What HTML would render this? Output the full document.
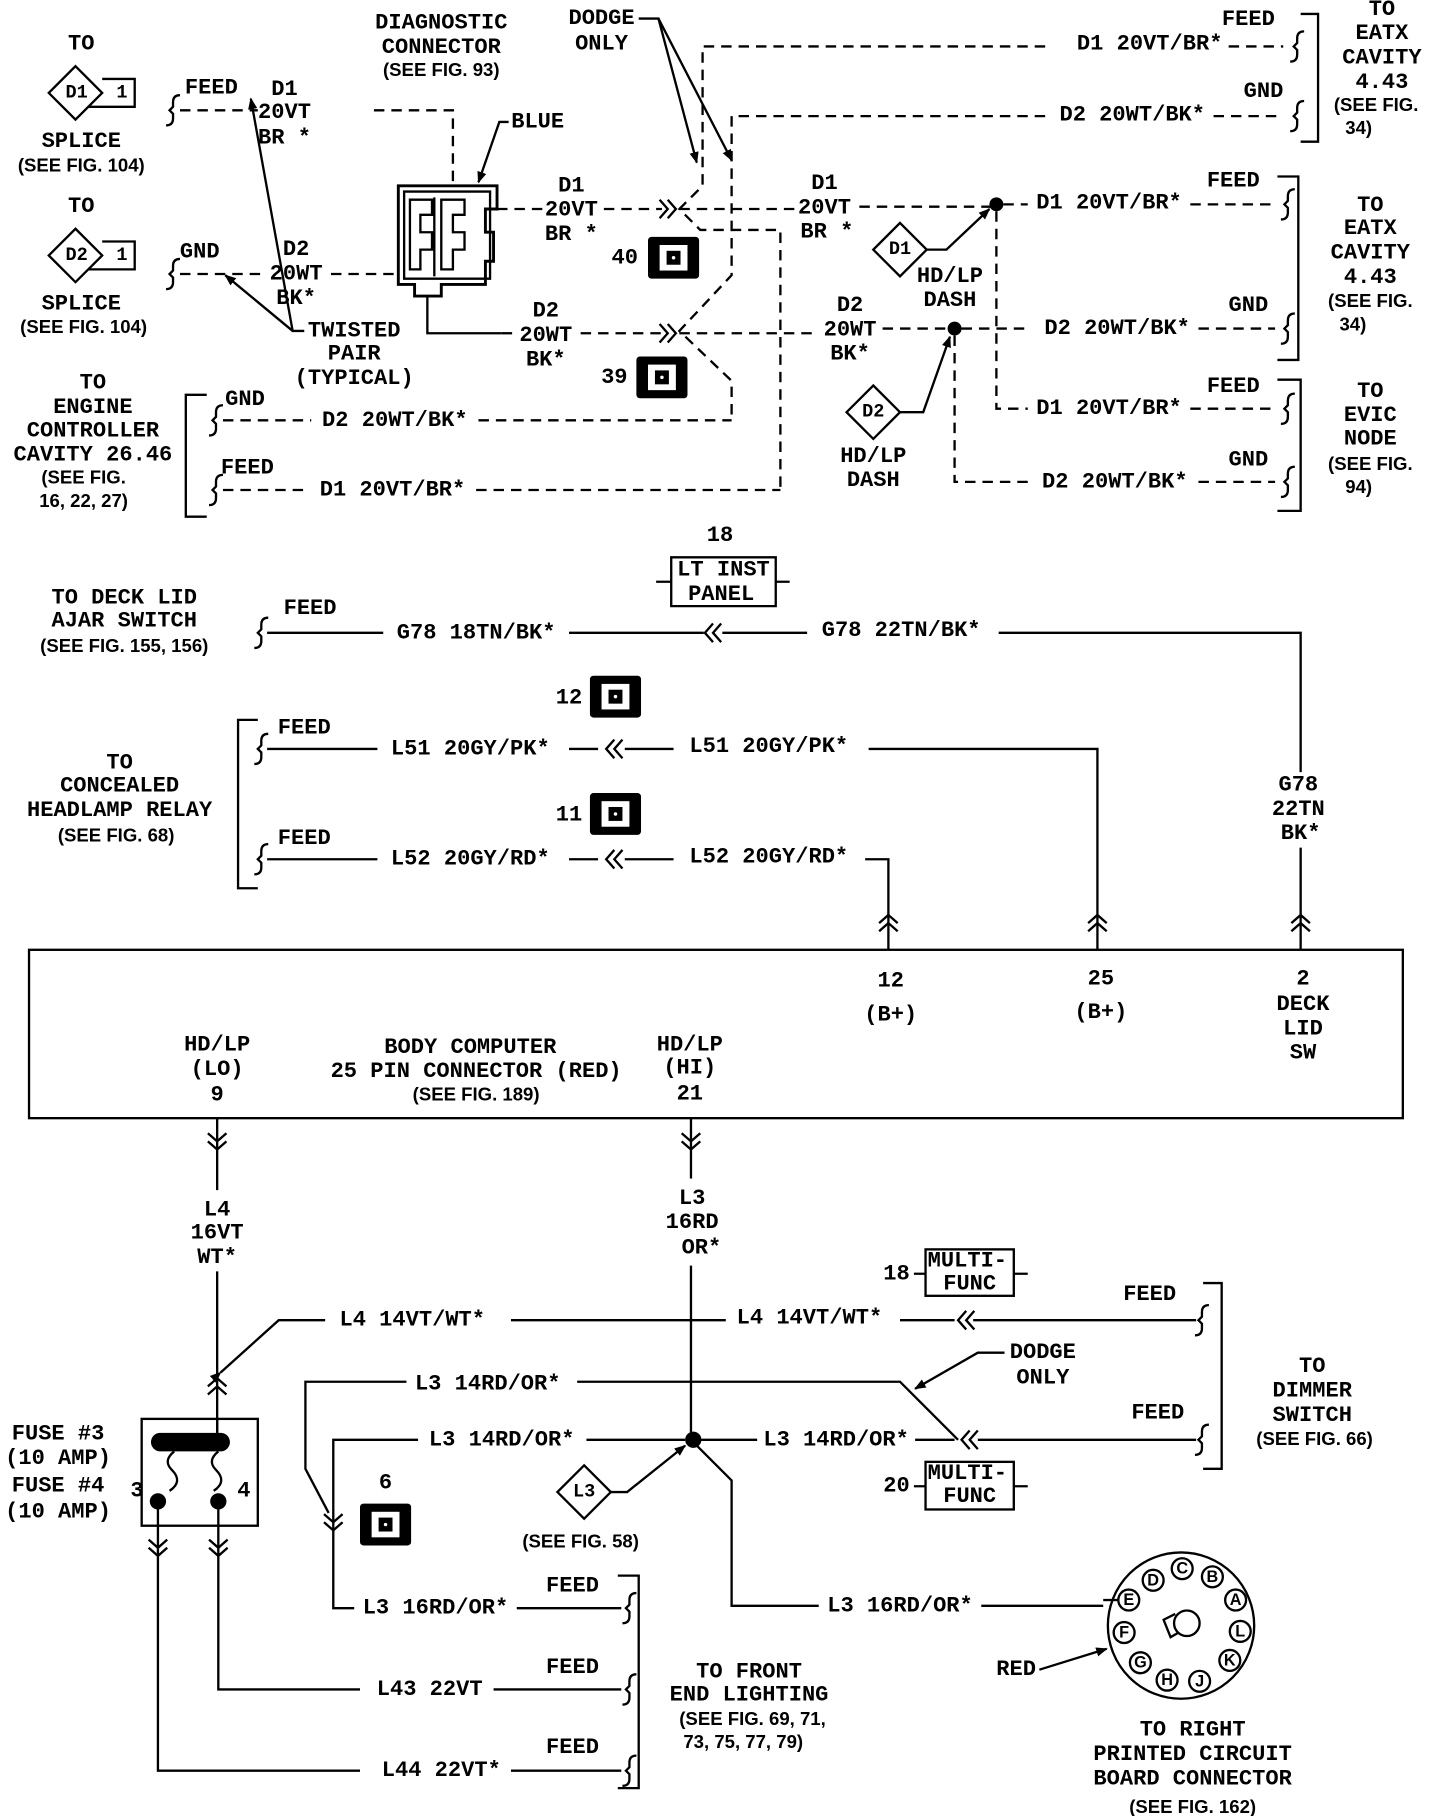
<!DOCTYPE html>
<html><head><meta charset="utf-8"><style>
html,body{margin:0;padding:0;background:#fff;}
svg{display:block}
.m{font-family:"Liberation Mono",monospace;font-weight:bold;font-size:19px;text-anchor:middle;dominant-baseline:central;fill:#000}
.s{font-family:"Liberation Sans",sans-serif;font-weight:bold;font-size:16px;text-anchor:middle;dominant-baseline:central;fill:#000}
.l{fill:none;stroke:#000;stroke-width:2}
.d{fill:none;stroke:#000;stroke-width:2;stroke-dasharray:9,6}
</style></head><body>
<svg width="1440" height="1816" viewBox="0 0 1240 1564" preserveAspectRatio="none" xmlns="http://www.w3.org/2000/svg">
<defs>
<path id="sq" class="l" d="M5,-13 q-6,0 -6,6 v4 l-3,3 l3,3 v4 q0,6 -6,6"/>
<path id="cl" class="l" d="M7,-8 L0,0 L7,8 M14,-8 L7,0 L14,8"/>
<path id="cr" class="l" d="M-7,-8 L0,0 L-7,8 M-14,-8 L-7,0 L-14,8"/>
<path id="cu" class="l" d="M-8,7 L0,0 L8,7 M-8,14 L0,7 L8,14"/>
<path id="cd" class="l" d="M-8,-7 L0,0 L8,-7 M-8,-14 L0,-7 L8,-14"/>
<marker id="ar" markerWidth="10" markerHeight="10" refX="9" refY="5" orient="auto" markerUnits="userSpaceOnUse"><path d="M0,1 L10,5 L0,9z" fill="#000"/></marker>
<g id="pin"><rect x="-22" y="-18" width="44" height="36" rx="3" fill="#000"/><rect x="-12" y="-11" width="24" height="22" fill="#fff"/><rect x="-6" y="-6" width="12" height="12" fill="#000"/><circle r="1.5" fill="#fff"/></g>
</defs>

<!-- ===== TOP LEFT ===== -->
<text class="m" x="70" y="38">TO</text>
<path class="l" d="M65,57 L88,80 L65,103 L42,80Z M88,68 H116 V92 H76"/>
<text class="m" x="66" y="80" style="font-size:16px">D1</text><text class="m" x="105" y="80" style="font-size:16px">1</text>
<text class="m" x="70" y="122">SPLICE</text><text class="s" x="70" y="142">(SEE FIG. 104)</text>
<text class="m" x="70" y="178">TO</text>
<path class="l" d="M65,197 L88,220 L65,243 L42,220Z M88,208 H116 V232 H76"/>
<text class="m" x="66" y="220" style="font-size:16px">D2</text><text class="m" x="105" y="220" style="font-size:16px">1</text>
<text class="m" x="70" y="262">SPLICE</text><text class="s" x="72" y="281">(SEE FIG. 104)</text>

<use href="#sq" x="150" y="95"/><text class="m" x="182" y="76">FEED</text>
<path class="d" d="M155,95 H222"/><path class="d" d="M322,95 H390 V160"/>
<text class="m" x="245" y="77">D1</text><text class="m" x="245" y="97">20VT</text><text class="m" x="245" y="119">BR *</text>
<use href="#sq" x="150" y="236"/><text class="m" x="172" y="217">GND</text>
<path class="d" d="M155,236 H228"/><path class="d" d="M285,236 H340"/>
<text class="m" x="255" y="215">D2</text><text class="m" x="255" y="236">20WT</text><text class="m" x="255" y="257">BK*</text>
<path class="l" d="M262,285 H252 L216,85" marker-end="url(#ar)"/><path class="l" d="M252,285 L194,237" marker-end="url(#ar)"/>
<text class="m" x="305" y="285">TWISTED</text><text class="m" x="305" y="305">PAIR</text><text class="m" x="305" y="326">(TYPICAL)</text>

<!-- diag connector -->
<text class="m" x="380" y="20">DIAGNOSTIC</text><text class="m" x="380" y="41">CONNECTOR</text><text class="s" x="380" y="60">(SEE FIG. 93)</text>
<path class="l" d="M343,160 H428 V180 H418 V200 H425 V225 H418 V245 H380 V255 H357 V245 H343 Z" style="stroke-width:2.5"/>
<path class="l" d="M348,165 H422 V240 H348 Z M353,172 H372 V185 H362 V200 H372 V215 H362 V232 H353Z M380,172 H400 V185 H390 V200 H400 V215 H390 V232 H380Z M374,170 V238"/>
<path class="l" d="M368,255 V287 H432"/><path class="d" d="M428,180 H468"/><path class="d" d="M520,180 H570"/>
<path class="l" d="M438,105 H430 L412,157" marker-end="url(#ar)"/><text class="m" x="463" y="105">BLUE</text>
<text class="m" x="492" y="160">D1</text><text class="m" x="492" y="181">20VT</text><text class="m" x="492" y="202">BR *</text>
<text class="m" x="470" y="268">D2</text><text class="m" x="470" y="289">20WT</text><text class="m" x="470" y="310">BK*</text>
<path class="d" d="M432,287 H445"/><path class="d" d="M500,287 H570"/>
<use href="#cr" x="582" y="180"/><use href="#cr" x="582" y="287"/>
<text class="m" x="538" y="222">40</text><use href="#pin" x="580" y="222"/>
<text class="m" x="529" y="325">39</text><use href="#pin" x="570" y="325"/>

<!-- dodge only top -->
<text class="m" x="518" y="16">DODGE</text><text class="m" x="518" y="38">ONLY</text>
<path class="l" d="M550,16 H567 L600,140" marker-end="url(#ar)"/><path class="l" d="M567,16 L630,138" marker-end="url(#ar)"/>
<!-- crossing dashed -->
<path class="d" d="M900,40 H605 V160 L585,180 L603,198 H672 V422"/>
<path class="d" d="M900,100 H630 V237 L585,285 L630,328 V362"/>
<path class="d" d="M585,180 H685"/><path class="d" d="M740,178 H860"/>
<path class="d" d="M585,287 H700"/><path class="d" d="M760,283 H822"/>
<text class="m" x="990" y="38">D1 20VT/BR*</text><path class="d" d="M1058,40 H1105"/><use href="#sq" x="1118" y="40"/>
<text class="m" x="1075" y="17">FEED</text>
<text class="m" x="975" y="99">D2 20WT/BK*</text><path class="d" d="M1045,100 H1105"/><use href="#sq" x="1118" y="100"/>
<text class="m" x="1088" y="79">GND</text>
<path class="l" d="M1120,12 H1135 V122 H1120"/>
<text class="m" x="1190" y="8">TO</text><text class="m" x="1190" y="29">EATX</text><text class="m" x="1190" y="50">CAVITY</text><text class="m" x="1190" y="71">4.43</text><text class="s" x="1185" y="90">(SEE FIG.</text><text class="s" x="1170" y="110">34)</text>

<text class="m" x="710" y="158">D1</text><text class="m" x="710" y="179">20VT</text><text class="m" x="712" y="200">BR *</text>
<circle cx="858" cy="176" r="6"/>
<path class="d" d="M864,176 H885"/><text class="m" x="955" y="175">D1 20VT/BR*</text><path class="d" d="M1025,176 H1098"/><use href="#sq" x="1110" y="176"/>
<text class="m" x="1062" y="156">FEED</text>
<path class="l" d="M775,192 L798,215 L775,238 L752,215Z"/><text class="m" x="775" y="215" style="font-size:16px">D1</text>
<path class="l" d="M798,215 H815 L852,180" marker-end="url(#ar)"/>
<text class="m" x="818" y="238">HD/LP</text><text class="m" x="818" y="259">DASH</text>
<text class="m" x="732" y="263">D2</text><text class="m" x="732" y="284">20WT</text><text class="m" x="732" y="305">BK*</text>
<circle cx="822" cy="283" r="6"/>
<path class="d" d="M828,283 H885"/><text class="m" x="962" y="283">D2 20WT/BK*</text><path class="d" d="M1032,283 H1098"/><use href="#sq" x="1110" y="283"/>
<text class="m" x="1075" y="263">GND</text>
<path class="l" d="M752,332 L775,355 L752,378 L729,355Z"/><text class="m" x="752" y="355" style="font-size:16px">D2</text>
<path class="l" d="M775,355 H795 L818,290" marker-end="url(#ar)"/>
<text class="m" x="752" y="393">HD/LP</text><text class="m" x="752" y="414">DASH</text>
<path class="l" d="M1100,152 H1118 V310 H1100"/>
<text class="m" x="1180" y="177">TO</text><text class="m" x="1180" y="197">EATX</text><text class="m" x="1180" y="218">CAVITY</text><text class="m" x="1180" y="239">4.43</text><text class="s" x="1180" y="259">(SEE FIG.</text><text class="s" x="1165" y="279">34)</text>
<path class="d" d="M858,182 V352 H885"/><text class="m" x="955" y="352">D1 20VT/BR*</text><path class="d" d="M1025,352 H1098"/><use href="#sq" x="1110" y="352"/>
<text class="m" x="1062" y="333">FEED</text>
<path class="d" d="M822,289 V415 H885"/><text class="m" x="960" y="415">D2 20WT/BK*</text><path class="d" d="M1032,415 H1098"/><use href="#sq" x="1110" y="415"/>
<text class="m" x="1075" y="396">GND</text>
<path class="l" d="M1100,327 H1120 V440 H1100"/>
<text class="m" x="1180" y="337">TO</text><text class="m" x="1180" y="358">EVIC</text><text class="m" x="1180" y="378">NODE</text><text class="s" x="1180" y="399">(SEE FIG.</text><text class="s" x="1170" y="419">94)</text>

<!-- engine controller -->
<text class="m" x="80" y="330">TO</text><text class="m" x="80" y="351">ENGINE</text><text class="m" x="80" y="371">CONTROLLER</text><text class="m" x="80" y="392">CAVITY 26.46</text><text class="s" x="72" y="411">(SEE FIG.</text><text class="s" x="72" y="431">16, 22, 27)</text>
<path class="l" d="M178,340 H160 V445 H178"/>
<use href="#sq" x="187" y="362"/><text class="m" x="211" y="344">GND</text>
<path class="d" d="M192,362 H268"/><text class="m" x="340" y="362">D2 20WT/BK*</text><path class="d" d="M412,362 H630"/>
<use href="#sq" x="187" y="422"/><text class="m" x="213" y="403">FEED</text>
<path class="d" d="M192,422 H262"/><text class="m" x="338" y="422">D1 20VT/BR*</text><path class="d" d="M410,422 H672"/>

<!-- ===== MIDDLE ===== -->
<text class="m" x="620" y="461">18</text>
<path class="l" d="M578,480 H668 V522 H578Z M565,501 H578 M668,501 H680"/>
<text class="m" x="623" y="491">LT INST</text><text class="m" x="621" y="512">PANEL</text>
<text class="m" x="107" y="515">TO DECK LID</text><text class="m" x="107" y="535">AJAR SWITCH</text><text class="s" x="107" y="556">(SEE FIG. 155, 156)</text>
<text class="m" x="267" y="524">FEED</text><use href="#sq" x="226" y="545"/>
<path class="l" d="M230,545 H330 M490,545 H606 M622,545 H695 M860,545 H1120 V665"/>
<use href="#cl" x="607" y="545"/>
<text class="m" x="410" y="545">G78 18TN/BK*</text><text class="m" x="776" y="543">G78 22TN/BK*</text>
<text class="m" x="1118" y="676">G78</text><text class="m" x="1118" y="697">22TN</text><text class="m" x="1120" y="718">BK*</text>
<path class="l" d="M1120,730 V818"/><use href="#cu" x="1120" y="788"/>

<text class="m" x="490" y="601">12</text><use href="#pin" x="530" y="600"/>
<text class="m" x="103" y="657">TO</text><text class="m" x="103" y="677">CONCEALED</text><text class="m" x="103" y="698">HEADLAMP RELAY</text><text class="s" x="100" y="719">(SEE FIG. 68)</text>
<path class="l" d="M222,620 H205 V765 H222"/>
<text class="m" x="262" y="627">FEED</text><use href="#sq" x="226" y="645"/>
<path class="l" d="M230,645 H325 M490,645 H515 M538,645 H580 M748,645 H945 V818"/>
<use href="#cl" x="522" y="645"/>
<text class="m" x="405" y="645">L51 20GY/PK*</text><text class="m" x="662" y="643">L51 20GY/PK*</text>
<use href="#cu" x="945" y="788"/>
<text class="m" x="490" y="702">11</text><use href="#pin" x="530" y="701"/>
<text class="m" x="262" y="722">FEED</text><use href="#sq" x="226" y="740"/>
<path class="l" d="M230,740 H325 M490,740 H515 M538,740 H580 M745,740 H765 V818"/>
<use href="#cl" x="522" y="740"/>
<text class="m" x="405" y="740">L52 20GY/RD*</text><text class="m" x="662" y="738">L52 20GY/RD*</text>
<use href="#cu" x="765" y="788"/>

<!-- body computer -->
<rect class="l" x="25" y="818" width="1183" height="145"/>
<text class="m" x="767" y="845">12</text><text class="m" x="767" y="874">(B+)</text>
<text class="m" x="948" y="843">25</text><text class="m" x="948" y="872">(B+)</text>
<text class="m" x="1122" y="843">2</text><text class="m" x="1122" y="865">DECK</text><text class="m" x="1122" y="886">LID</text><text class="m" x="1122" y="907">SW</text>
<text class="m" x="187" y="900">HD/LP</text><text class="m" x="187" y="921">(LO)</text><text class="m" x="187" y="943">9</text>
<text class="m" x="405" y="902">BODY COMPUTER</text><text class="m" x="410" y="923">25 PIN CONNECTOR (RED)</text><text class="s" x="410" y="942">(SEE FIG. 189)</text>
<text class="m" x="594" y="900">HD/LP</text><text class="m" x="594" y="920">(HI)</text><text class="m" x="594" y="942">21</text>

<!-- ===== BOTTOM ===== -->
<path class="l" d="M187,963 V1025"/><use href="#cd" x="187" y="990"/>
<text class="m" x="187" y="1042">L4</text><text class="m" x="187" y="1062">16VT</text><text class="m" x="187" y="1083">WT*</text>
<path class="l" d="M187,1095 V1242"/><use href="#cu" x="187" y="1187"/>
<path class="l" d="M190,1182 L240,1137 H280 M440,1137 H625 M775,1137 H822 M838,1137 H1030" marker-start="url(#ar)"/>
<use href="#cl" x="825" y="1137"/>
<text class="m" x="355" y="1137">L4 14VT/WT*</text><text class="m" x="697" y="1135">L4 14VT/WT*</text>
<text class="m" x="990" y="1115">FEED</text><use href="#sq" x="1036" y="1137"/>
<path class="l" d="M595,963 V1015"/><use href="#cd" x="595" y="990"/>
<text class="m" x="596" y="1032">L3</text><text class="m" x="596" y="1053">16RD</text><text class="m" x="604" y="1075">OR*</text>
<path class="l" d="M595,1090 V1240 L630,1275 V1383 H705 M845,1383 H950"/>
<circle cx="597" cy="1240" r="7"/>
<text class="m" x="775" y="1383">L3 16RD/OR*</text>

<!-- fuse -->
<rect class="l" x="122" y="1222" width="100" height="92"/>
<path class="l" d="M187,1222 V1240"/>
<rect x="130" y="1234" width="68" height="16" rx="8" fill="#000"/>
<path class="l" d="M150,1250 q-10,8 -2,16 q10,10 -2,18 M188,1250 q-10,8 -2,16 q10,10 -2,18"/>
<circle cx="136" cy="1293" r="7"/><circle cx="188" cy="1293" r="7"/>
<text class="m" x="118" y="1284">3</text><text class="m" x="210" y="1284">4</text>
<text class="m" x="50" y="1235">FUSE #3</text><text class="m" x="50" y="1256">(10 AMP)</text><text class="m" x="50" y="1280">FUSE #4</text><text class="m" x="50" y="1302">(10 AMP)</text>
<path class="l" d="M136,1293 V1525 H310 M188,1293 V1455 H310"/>
<use href="#cd" x="136" y="1340"/><use href="#cd" x="188" y="1340"/>

<path class="l" d="M350,1190 H263 V1265 L283,1303 M360,1240 H287 V1385 H305"/>
<path class="l" d="M497,1190 H775 L825,1240 M505,1240 H590 M603,1240 H652 M788,1240 H822 M842,1240 H1030"/>
<use href="#cd" x="287" y="1318"/>
<use href="#cl" x="828" y="1240"/>
<text class="m" x="420" y="1192">L3 14RD/OR*</text><text class="m" x="432" y="1240">L3 14RD/OR*</text><text class="m" x="720" y="1240">L3 14RD/OR*</text>
<text class="m" x="997" y="1217">FEED</text><use href="#sq" x="1036" y="1240"/>
<path class="l" d="M1036,1105 H1052 V1265 H1036"/>
<text class="m" x="1130" y="1177">TO</text><text class="m" x="1130" y="1198">DIMMER</text><text class="m" x="1130" y="1219">SWITCH</text><text class="s" x="1132" y="1239">(SEE FIG. 66)</text>
<text class="m" x="898" y="1165">DODGE</text><text class="m" x="898" y="1187">ONLY</text>
<path class="l" d="M865,1165 H842 L788,1196" marker-end="url(#ar)"/>
<text class="m" x="772" y="1097">18</text><path class="l" d="M787,1097 H797 M873,1097 H885"/><rect class="l" x="797" y="1076" width="76" height="40"/>
<text class="m" x="833" y="1086">MULTI-</text><text class="m" x="835" y="1106">FUNC</text>
<text class="m" x="772" y="1280">20</text><path class="l" d="M787,1280 H797 M873,1280 H885"/><rect class="l" x="797" y="1259" width="76" height="41"/>
<text class="m" x="833" y="1269">MULTI-</text><text class="m" x="835" y="1289">FUNC</text>
<text class="m" x="332" y="1277">6</text><use href="#pin" x="332" y="1313"/>
<path class="l" d="M503,1262 L526,1285 L503,1308 L480,1285Z"/><text class="m" x="503" y="1285" style="font-size:16px">L3</text>
<path class="l" d="M526,1285 H540 L590,1245" marker-end="url(#ar)"/>
<text class="s" x="500" y="1327">(SEE FIG. 58)</text>

<text class="m" x="375" y="1385">L3 16RD/OR*</text><path class="l" d="M445,1385 H535"/>
<text class="m" x="493" y="1366">FEED</text><use href="#sq" x="543" y="1385"/>
<text class="m" x="370" y="1455">L43 22VT</text><path class="l" d="M425,1455 H535"/>
<text class="m" x="493" y="1436">FEED</text><use href="#sq" x="543" y="1455"/>
<text class="m" x="380" y="1525">L44 22VT*</text><path class="l" d="M440,1525 H535"/>
<text class="m" x="493" y="1505">FEED</text><use href="#sq" x="543" y="1525"/>
<path class="l" d="M532,1357 H550 V1540 H532"/>
<text class="m" x="645" y="1440">TO FRONT</text><text class="m" x="645" y="1460">END LIGHTING</text><text class="s" x="648" y="1480">(SEE FIG. 69, 71,</text><text class="s" x="640" y="1500">73, 75, 77, 79)</text>

<!-- round connector -->
<circle class="l" cx="1017" cy="1400" r="63"/>
<g style="font-family:'Liberation Sans',sans-serif;font-weight:bold;font-size:14px;text-anchor:middle;dominant-baseline:central">
<circle class="l" cx="993" cy="1361" r="9"/><text x="993" y="1361">D</text>
<circle class="l" cx="1018" cy="1351" r="9"/><text x="1018" y="1351">C</text>
<circle class="l" cx="1044" cy="1358" r="9"/><text x="1044" y="1358">B</text>
<circle class="l" cx="1064" cy="1378" r="9"/><text x="1064" y="1378">A</text>
<circle class="l" cx="1068" cy="1405" r="9"/><text x="1068" y="1405">L</text>
<circle class="l" cx="1059" cy="1430" r="9"/><text x="1059" y="1430">K</text>
<circle class="l" cx="1033" cy="1448" r="9"/><text x="1033" y="1448">J</text>
<circle class="l" cx="1005" cy="1447" r="9"/><text x="1005" y="1447">H</text>
<circle class="l" cx="982" cy="1432" r="9"/><text x="982" y="1432">G</text>
<circle class="l" cx="968" cy="1406" r="9"/><text x="968" y="1406">F</text>
<circle class="l" cx="972" cy="1378" r="9"/><text x="972" y="1378">E</text>
</g>
<circle class="l" cx="1022" cy="1398" r="11"/><path class="l" d="M1012,1390 L1002,1395 L1008,1410 L1015,1406"/>
<path class="l" d="M950,1378 H963"/>
<text class="m" x="875" y="1438">RED</text><path class="l" d="M895,1438 L953,1420" marker-end="url(#ar)"/>
<text class="m" x="1027" y="1490">TO RIGHT</text><text class="m" x="1027" y="1511">PRINTED CIRCUIT</text><text class="m" x="1027" y="1532">BOARD CONNECTOR</text><text class="s" x="1027" y="1556">(SEE FIG. 162)</text>
</svg>
</body></html>
